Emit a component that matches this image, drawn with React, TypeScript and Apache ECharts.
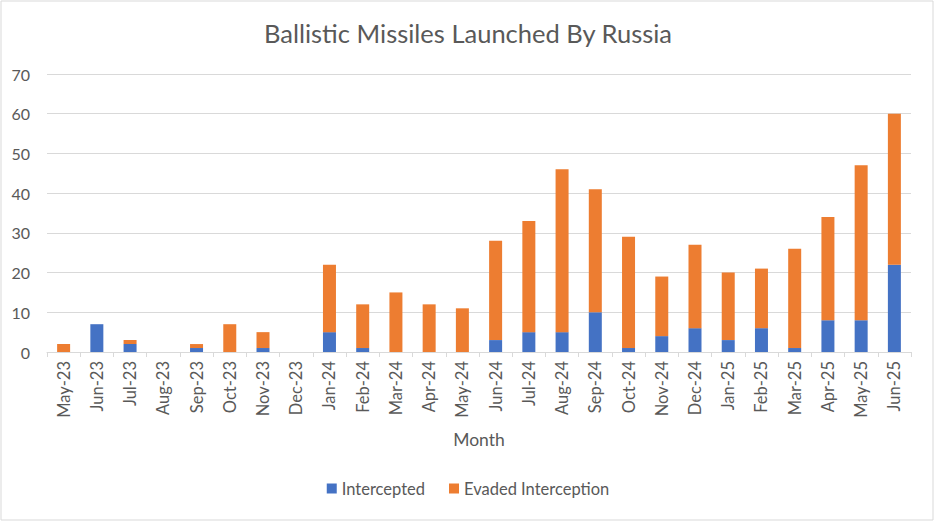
import React, { useEffect, useRef } from "react";
import * as echarts from "echarts";

const months = [
  "May-23", "Jun-23", "Jul-23", "Aug-23", "Sep-23", "Oct-23", "Nov-23", "Dec-23",
  "Jan-24", "Feb-24", "Mar-24", "Apr-24", "May-24", "Jun-24", "Jul-24", "Aug-24",
  "Sep-24", "Oct-24", "Nov-24", "Dec-24", "Jan-25", "Feb-25", "Mar-25", "Apr-25",
  "May-25", "Jun-25",
];
const intercepted = [0, 7, 2, 0, 1, 0, 1, 0, 5, 1, 0, 0, 0, 3, 5, 5, 10, 1, 4, 6, 3, 6, 1, 8, 8, 22];
const evaded = [2, 0, 1, 0, 1, 7, 4, 0, 17, 11, 15, 12, 11, 25, 28, 41, 31, 28, 15, 21, 17, 15, 25, 26, 39, 38];

const FONT = "Lato, 'Open Sans', sans-serif";
const GREY = "#595959";

export default function App() {
  const ref = useRef<HTMLDivElement>(null);
  useEffect(() => {
    document.body.style.margin = "0";
    const chart = echarts.init(ref.current!, null, { renderer: "svg" });
    chart.setOption({
      animation: false,
      backgroundColor: "#ffffff",
      textStyle: { fontFamily: FONT },
      title: {
        text: "Ballistic Missiles Launched By Russia",
        left: "center",
        top: 15,
        textStyle: { fontFamily: FONT, fontSize: 25.5, fontWeight: "normal", color: GREY },
      },
      legend: {
        bottom: 20,
        left: "center",
        itemWidth: 10,
        itemHeight: 10,
        itemGap: 24,
        icon: "rect",
        textStyle: { fontFamily: FONT, fontSize: 16.5, color: GREY },
        data: ["Intercepted", "Evaded Interception"],
      },
      grid: { left: 47, right: 25, top: 74, bottom: 170, containLabel: false },
      xAxis: {
        type: "category",
        data: months,
        name: "Month",
        nameLocation: "middle",
        nameGap: 78,
        nameTextStyle: { fontFamily: FONT, fontSize: 17.5, color: GREY },
        axisLine: { lineStyle: { color: "#d9d9d9" } },
        axisTick: { show: true, alignWithLabel: false, length: 5, lineStyle: { color: "#d9d9d9" } },
        axisLabel: { rotate: 90, fontSize: 16.5, color: GREY, margin: 9, interval: 0, fontFamily: FONT },
      },
      yAxis: {
        type: "value",
        min: 0,
        max: 70,
        interval: 10,
        axisLine: { show: false },
        axisTick: { show: false },
        axisLabel: { fontSize: 16, color: GREY, margin: 17, fontFamily: FONT },
        splitLine: { lineStyle: { color: "#d9d9d9" } },
      },
      series: [
        {
          name: "Intercepted",
          type: "bar",
          stack: "total",
          data: intercepted,
          barWidth: 13,
          itemStyle: { color: "#4472C4" },
        },
        {
          name: "Evaded Interception",
          type: "bar",
          stack: "total",
          data: evaded,
          barWidth: 13,
          itemStyle: { color: "#ED7D31" },
        },
      ],
      graphic: [
        {
          type: "rect",
          shape: { x: 1, y: 1, width: 932, height: 519 },
          style: { fill: "none", stroke: "#d9d9d9", lineWidth: 1 },
          silent: true,
        },
      ],
    });
    return () => chart.dispose();
  }, []);
  return (
    <div
      ref={ref}
      style={{ position: "fixed", left: 0, top: 0, width: 936, height: 522 }}
    />
  );
}
